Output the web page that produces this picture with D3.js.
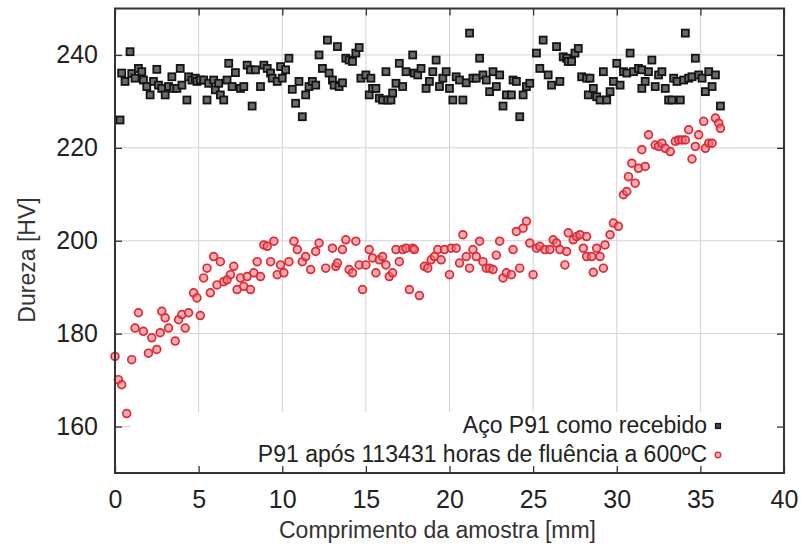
<!DOCTYPE html>
<html>
<head>
<meta charset="utf-8">
<script src="https://cdn.jsdelivr.net/npm/d3@7"></script>
<style>
  html, body { margin: 0; padding: 0; background: #fff; }
  svg { display: block; font-family: "Liberation Sans", Arial, Helvetica, sans-serif; }
</style>
</head>
<body>
<svg id="chart" width="808" height="550"></svg>
<script>
// ---- Data ----
const receivedX = [0.3,0.4,0.6,0.9,1.0,1.2,1.4,1.6,1.7,1.9,2.1,2.3,2.5,2.6,2.8,3.0,3.2,3.4,3.5,3.7,3.9,4.0,4.3,4.4,4.6,4.8,4.9,5.1,5.3,5.5,5.6,5.9,6.0,6.2,6.3,6.5,6.7,6.8,7.0,7.2,7.5,7.7,7.9,8.1,8.2,8.4,8.7,8.9,9.1,9.3,9.4,9.7,9.9,10.0,10.2,10.4,10.6,10.8,11.0,11.2,11.4,11.6,11.8,12.0,12.2,12.4,12.7,12.8,13.0,13.1,13.3,13.4,13.6,13.8,14.0,14.2,14.4,14.6,14.7,15.0,15.2,15.3,15.4,15.6,15.8,16.0,16.2,16.3,16.5,16.6,16.8,17.0,17.2,17.4,17.8,17.9,18.1,18.3,18.6,18.8,19.0,19.2,19.4,19.6,19.8,20.0,20.2,20.4,20.6,20.8,21.0,21.2,21.4,21.6,21.8,22.0,22.2,22.4,22.6,22.8,23.0,23.2,23.4,23.7,23.8,24.0,24.2,24.4,24.6,24.8,25.2,25.4,25.6,25.9,26.1,26.4,26.6,26.8,27.0,27.1,27.3,27.5,27.7,27.9,28.2,28.3,28.4,28.6,28.8,29.0,29.2,29.4,29.6,29.8,30.0,30.2,30.4,30.6,30.8,31.0,31.3,31.5,31.5,31.7,31.9,32.1,32.3,32.5,32.7,32.9,33.1,33.3,33.4,33.6,33.8,34.0,34.1,34.3,34.5,34.7,34.9,35.1,35.3,35.5,35.7,35.9,36.2];
const receivedY = [226,236.1,234.3,240.7,236,235,237.1,236.4,234.6,233.2,231.4,234.3,236.9,233.5,232.8,231.4,233.2,235.3,232.8,232.8,237.1,233.5,230.3,235.3,234.6,235,234.3,234.6,234.6,230.3,233.9,234.6,232.5,233.9,231.4,230.3,234.6,238.2,233.2,236.2,232.8,233.2,237.8,236.8,229,236.8,233.2,237.8,237.1,236.1,235,234.3,237.5,235,236.8,239.3,232.6,229.6,234.3,226.7,231.4,233.2,234.3,233.5,240,237.1,243.2,236.1,234.6,233.5,241.8,233.2,234,239.3,238.9,238.6,240.4,241.6,235,235.7,231.4,235,232.8,232.8,230.7,230.3,236.4,230.3,230.3,231.8,233.9,238.2,233.2,236.4,240,236.1,235.7,237.1,232.8,234.3,236.4,238.9,233.2,235,236.4,232.8,230.3,235.3,234.6,230.3,234,244.7,235,235,239.3,235.7,234.6,232.1,236.4,233.2,235.7,229,231.4,231.4,234.6,234.3,226.7,231.4,233.2,233.9,240.4,237.1,243.2,235.7,233.5,241.8,234.3,239.6,239.3,238.6,238.6,240.4,241.4,235.3,235,231.4,235,232.8,231,230.3,236.4,230.3,232.1,234.3,238.2,233.5,236.4,236.1,240.4,236.4,237.1,236.8,232.8,234.3,236.4,238.9,233.2,235.7,236.4,232.8,230.3,230.3,235,234.3,230.3,234.6,244.7,235,235.3,239.3,235.7,235,232.1,236.4,233.2,235.7,229];

const creepX = [0.0,0.2,0.4,0.7,1.0,1.2,1.4,1.7,2.0,2.2,2.5,2.7,2.8,3.0,3.2,3.6,3.8,4.0,4.2,4.4,4.7,4.9,5.1,5.3,5.5,5.7,5.9,6.1,6.3,6.5,6.7,6.9,7.1,7.3,7.5,7.7,7.9,8.1,8.3,8.5,8.7,8.9,9.1,9.3,9.5,9.7,9.9,10.1,10.4,10.7,10.9,11.2,11.4,11.7,12.0,12.2,12.6,13.0,13.2,13.3,13.6,13.8,14.0,14.2,14.4,14.6,14.8,15.0,15.2,15.4,15.6,15.8,16.0,16.2,16.4,16.6,16.8,17.0,17.2,17.4,17.6,17.8,17.9,18.2,18.5,18.7,18.9,19.1,19.3,19.5,19.7,20.0,20.1,20.4,20.6,20.8,21.0,21.2,21.4,21.6,21.8,22.0,22.2,22.4,22.6,22.8,23.0,23.2,23.4,23.7,23.8,24.0,24.2,24.4,24.6,24.8,25.0,25.2,25.4,25.7,26.0,26.2,26.4,26.6,26.9,27.0,27.1,27.4,27.6,27.8,28.0,28.2,28.2,28.5,28.6,28.8,29.0,29.2,29.3,29.6,29.8,30.1,30.4,30.6,30.7,30.9,31.1,31.3,31.5,31.7,31.9,32.3,32.5,32.7,32.9,33.2,33.5,33.7,33.9,34.1,34.3,34.5,34.7,34.9,35.2,35.3,35.5,35.7,35.9,36.1,36.2];
const creepY = [175.1,170.1,169,162.8,174.4,181.2,184.5,180.5,175.8,179.1,176.6,180.2,184.8,183.4,181.2,178.4,183,184.1,181.2,184.5,188.8,187.7,183.9,192,194.1,188.8,196.6,190.5,195.5,191.2,191.6,192.7,194.5,189.5,192,190.2,192.3,189.5,193.1,195.5,192.3,199.1,198.8,195.5,199.9,192.7,194.8,193.1,195.5,199.9,198.1,195.5,196.6,193.8,197.7,199.5,194.1,198.4,194.5,195.2,198.1,200.2,193.8,193.1,199.9,194.8,189.5,194.8,198.1,196.3,193.1,195.9,196.6,194.8,192.3,193.1,198.1,195.5,198.1,198.4,189.5,198.4,198.1,188.2,194.5,194.1,195.9,196.6,198.1,195.9,198.1,192.7,198.4,198.4,195.2,201.3,196.6,194.1,198.1,196.6,199.9,195.5,194.1,194.1,193.8,196.9,199.9,192,193.1,192.7,198.1,202,194.1,202.7,204.2,199.5,192.7,198.4,198.8,198.1,198.1,200.2,199.5,198.1,194.8,197.7,201.7,200.2,200.9,201.3,198.4,200.9,196.6,196.6,193.2,198.4,196.6,194.1,199.1,201.3,203.8,203.1,209.9,210.6,213.8,216.7,212.4,215.6,219.6,216,222.8,220.6,220.3,221,219.9,219.2,221.4,221.7,221.7,221.7,223.9,217.6,220.3,222.8,225.7,219.9,221,221,226.4,225.3,224.2];

const xTicks = [0,5,10,15,20,25,30,35,40];
const yTicks = [160,180,200,220,240];
const xTitle = "Comprimento da amostra [mm]";
const yTitle = "Dureza [HV]";
const seriesNames = ["Aço P91 como recebido", "P91 após 113431 horas de fluência a 600ºC"];

// ---- Layout ----
const svg = d3.select("#chart");
const L = 115, R = 784, T = 8.5, B = 473;
const x = d3.scaleLinear().domain([0, 40]).range([L, R]);
const y = d3.scaleLinear().domain([150, 250]).range([B, T]);

// grid
const grid = svg.append("g").attr("stroke", "#d2d2d2").attr("stroke-width", 1);
grid.selectAll("line.v").data(xTicks.filter(d => d > 0 && d < 40)).join("line")
  .attr("x1", d => x(d)).attr("x2", d => x(d)).attr("y1", T).attr("y2", B);
grid.selectAll("line.h").data(yTicks).join("line")
  .attr("x1", L).attr("x2", R).attr("y1", d => y(d)).attr("y2", d => y(d));

// legend background (opaque key)
svg.append("rect").attr("x", L + 16).attr("y", 412).attr("width", R - L - 17).attr("height", B - 412 - 1)
  .attr("fill", "#fff");

// received: open squares
const s = 7;
svg.append("g").selectAll("rect").data(receivedX.map((d, i) => [d, receivedY[i]])).join("rect")
  .attr("x", d => x(d[0]) - s / 2).attr("y", d => y(d[1]) - s / 2)
  .attr("width", s).attr("height", s)
  .attr("fill", "#6a6a6a").attr("stroke", "#141414").attr("stroke-width", 1.8);

// creep: open circles
svg.append("g").selectAll("circle").data(creepX.map((d, i) => [d, creepY[i]])).join("circle")
  .attr("cx", d => x(d[0])).attr("cy", d => y(d[1])).attr("r", 3.9)
  .attr("fill", "rgba(238,120,125,0.6)").attr("stroke", "#dd2a36").attr("stroke-width", 1.7);

// axes (inward ticks, mirrored)
function styleAxis(g) {
  g.select(".domain").remove();
  g.selectAll(".tick line").attr("stroke", "#333").attr("stroke-width", 1.3);
  g.selectAll(".tick text").attr("fill", "#222").attr("font-size", 25)
    .attr("font-family", "'Liberation Sans', Arial, sans-serif");
}
svg.append("g").attr("transform", `translate(0,${B})`)
  .call(d3.axisBottom(x).tickValues(xTicks).tickSize(-7).tickPadding(17))
  .call(styleAxis);
svg.append("g").attr("transform", `translate(0,${T})`)
  .call(d3.axisTop(x).tickValues(xTicks).tickSize(-7).tickFormat(""))
  .call(styleAxis);
svg.append("g").attr("transform", `translate(${L},0)`)
  .call(d3.axisLeft(y).tickValues(yTicks).tickSize(-7).tickPadding(17))
  .call(styleAxis);
svg.append("g").attr("transform", `translate(${R},0)`)
  .call(d3.axisRight(y).tickValues(yTicks).tickSize(-7).tickFormat(""))
  .call(styleAxis);

// frame
svg.append("rect").attr("x", L).attr("y", T).attr("width", R - L).attr("height", B - T)
  .attr("fill", "none").attr("stroke", "#333").attr("stroke-width", 2);

// titles
svg.append("text").attr("x", (L + R) / 2 - 12).attr("y", 538).attr("text-anchor", "middle")
  .attr("font-size", 23).attr("fill", "#333").text(xTitle);
svg.append("text").attr("transform", `translate(35,260) rotate(-90)`).attr("text-anchor", "middle")
  .attr("font-size", 23).attr("fill", "#333").text(yTitle);

// legend
const leg = svg.append("g");
const legY = [433, 462];
leg.selectAll("text").data(seriesNames).join("text")
  .attr("x", 707).attr("y", (d, i) => legY[i]).attr("text-anchor", "end")
  .attr("font-size", 23).attr("fill", "#222").text(d => d);
leg.append("rect").attr("x", 718 - 2.5).attr("y", legY[0] - 7 - 2.5).attr("width", 5).attr("height", 5)
  .attr("fill", "#444").attr("stroke", "#141414").attr("stroke-width", 1.2);
leg.append("circle").attr("cx", 718).attr("cy", legY[1] - 7).attr("r", 2.8)
  .attr("fill", "rgba(238,120,125,0.6)").attr("stroke", "#dd2a36").attr("stroke-width", 1.3);
</script>
</body>
</html>
